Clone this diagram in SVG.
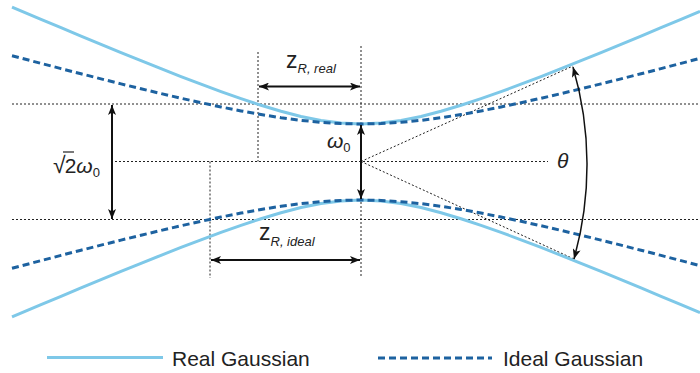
<svg xmlns="http://www.w3.org/2000/svg" width="700" height="373" viewBox="0 0 700 373">
<style>
.real{fill:none;stroke:#7ec8e8;stroke-width:3;stroke-linejoin:round}
.ideal{fill:none;stroke:#1d62a0;stroke-width:3;stroke-dasharray:7 4;stroke-linejoin:round}
.dot{fill:none;stroke:#222;stroke-width:1;stroke-dasharray:2 2}
.arr{fill:none;stroke:#111;stroke-width:2}
.arc{fill:none;stroke:#111;stroke-width:1.5}
text{font-family:"Liberation Sans",Arial,sans-serif;fill:#222}
.big{font-size:21px}
.zz{font-size:23px}
.sub{font-size:13px}
.it{font-style:italic}
.leg{font-size:21px}
</style>
<defs>
<marker id="ah" viewBox="0 0 10 8" refX="10" refY="4" markerWidth="10" markerHeight="8" markerUnits="userSpaceOnUse" orient="auto-start-reverse">
<path d="M0,0 L10,4 L0,8 L2.5,4 z" fill="#111"/>
</marker>
</defs>
<g id="guides">
<line class="dot" x1="12" y1="104" x2="700" y2="104"/>
<line class="dot" x1="12" y1="219.5" x2="700" y2="219.5"/>
<line class="dot" x1="115" y1="161.5" x2="548" y2="161.5"/>
<line class="dot" x1="361" y1="46" x2="361" y2="276"/>
<line class="dot" x1="258" y1="52" x2="258" y2="161.5"/>
<line class="dot" x1="210" y1="161.5" x2="210" y2="278"/>
<line class="dot" x1="361" y1="161.5" x2="573" y2="66"/>
<line class="dot" x1="361" y1="161.5" x2="574" y2="259"/>
</g>
<g id="real-gaussian">
<polyline class="real" points="12,7.07 41,19.33 61,27.74 81,36.09 101,44.38 121,52.59 141,60.71 161,68.70 181,76.55 201,84.20 221,91.61 241,98.67 261,105.29 281,111.28 301,116.45 321,120.49 341,123.09 361,124 381,123.09 401,120.49 421,116.45 441,111.28 461,105.29 481,98.67 501,91.61 521,84.20 541,76.55 561,68.70 581,60.71 601,52.59 621,44.38 641,36.09 661,27.74 681,19.33 700,11.31"/>
<polyline class="real" points="12,316.93 41,304.67 61,296.26 81,287.91 101,279.62 121,271.41 141,263.29 161,255.30 181,247.45 201,239.80 221,232.39 241,225.33 261,218.71 281,212.72 301,207.55 321,203.51 341,200.91 361,200 381,200.91 401,203.51 421,207.55 441,212.72 461,218.71 481,225.33 501,232.39 521,239.80 541,247.45 561,255.30 581,263.29 601,271.41 621,279.62 641,287.91 661,296.26 681,304.67 700,312.69"/>
</g>
<g id="ideal-gaussian">
<polyline class="ideal" points="12,55.71 41,63.37 61,68.59 81,73.76 101,78.86 121,83.87 141,88.79 161,93.59 181,98.24 201,102.71 221,106.96 241,110.92 261,114.53 281,117.71 301,120.34 321,122.33 341,123.58 361,124 381,123.58 401,122.33 421,120.34 441,117.71 461,114.53 481,110.92 501,106.96 521,102.71 541,98.24 561,93.59 581,88.79 601,83.87 621,78.86 641,73.76 661,68.59 681,63.37 700,58.36"/>
<polyline class="ideal" points="12,268.29 41,260.63 61,255.41 81,250.24 101,245.14 121,240.13 141,235.21 161,230.41 181,225.76 201,221.29 221,217.04 241,213.08 261,209.47 281,206.29 301,203.66 321,201.67 341,200.42 361,200 381,200.42 401,201.67 421,203.66 441,206.29 461,209.47 481,213.08 501,217.04 521,221.29 541,225.76 561,230.41 581,235.21 601,240.13 621,245.14 641,250.24 661,255.41 681,260.63 700,265.64"/>
</g>
<g id="connectors">
<line class="arr" x1="112" y1="105" x2="112" y2="219" marker-start="url(#ah)" marker-end="url(#ah)"/>
<line class="arr" x1="361" y1="125" x2="361" y2="199" marker-start="url(#ah)" marker-end="url(#ah)"/>
<line class="arr" x1="259" y1="86.5" x2="360" y2="86.5" marker-start="url(#ah)" marker-end="url(#ah)"/>
<line class="arr" x1="211" y1="260" x2="360" y2="260" marker-start="url(#ah)" marker-end="url(#ah)"/>
<path class="arc" d="M573,67 A348,348 0 0 1 574,259" marker-start="url(#ah)" marker-end="url(#ah)"/>
</g>
<g id="labels">
<text class="zz" x="286" y="68">z<tspan class="sub it" dy="5">R, real</tspan></text>
<text class="zz" x="259" y="240">z<tspan class="sub it" dy="6">R, ideal</tspan></text>
<text class="big it" x="327" y="148">ω<tspan class="sub" dy="4" font-style="normal">0</tspan></text>
<text class="big" x="53" y="173"><tspan font-size="23">√</tspan><tspan dx="-1">2</tspan><tspan class="it">ω</tspan><tspan class="sub" dy="4">0</tspan></text>
<line x1="63" y1="152" x2="74" y2="152" stroke="#222" stroke-width="1.2"/>
<text class="big it" x="557" y="168">θ</text>
</g>
<g id="legend">
<line class="real" x1="47" y1="357.5" x2="163" y2="357.5"/>
<text class="leg" x="172" y="366">Real Gaussian</text>
<line class="ideal" x1="378" y1="358" x2="492" y2="358"/>
<text class="leg" x="503" y="366">Ideal Gaussian</text>
</g>
</svg>
